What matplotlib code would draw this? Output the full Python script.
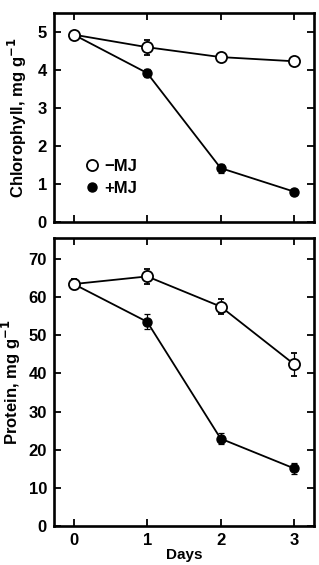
import numpy as np
import matplotlib.pyplot as plt
from matplotlib.lines import Line2D

days = [0, 1, 2, 3]

chl_minus = [4.93, 4.60, 4.34, 4.23]
chl_minus_err = [0.10, 0.20, 0.10, 0.12]
chl_plus = [4.93, 3.92, 1.42, 0.80]
chl_plus_err = [0.10, 0.10, 0.12, 0.08]

prot_minus = [63.4, 65.4, 57.5, 42.4]
prot_minus_err = [1.2, 2.0, 2.0, 3.0]
prot_plus = [63.4, 53.5, 22.9, 15.1]
prot_plus_err = [1.2, 2.0, 1.5, 1.5]

plt.rcParams['font.family'] = 'Liberation Sans'
plt.rcParams['font.weight'] = 'bold'
plt.rcParams['font.size'] = 12

fig = plt.figure(figsize=(3.19, 5.65), dpi=100)
ax1 = fig.add_axes([0.169, 0.607, 0.815, 0.370])
ax2 = fig.add_axes([0.169, 0.069, 0.815, 0.510])


def draw(ax, minus, minus_err, plus, plus_err):
    ax.errorbar(days, plus, yerr=plus_err, color='black', lw=1.3,
                marker='o', ms=6.5, mfc='black', mec='black',
                capsize=2.5, elinewidth=0.9, capthick=0.9, zorder=2)
    ax.errorbar(days, minus, yerr=minus_err, color='black', lw=1.3,
                marker='o', ms=8, mfc='white', mec='black', mew=1.3,
                capsize=2.5, elinewidth=0.9, capthick=0.9, zorder=3)
    ax.set_xlim(-0.27, 3.27)
    ax.set_xticks(days)
    ax.tick_params(direction='in', top=True, right=True, length=5,
                   width=1.3, labelsize=12, pad=5)
    for s in ax.spines.values():
        s.set_linewidth(1.9)


draw(ax1, chl_minus, chl_minus_err, chl_plus, chl_plus_err)
ax1.set_ylim(0, 5.5)
ax1.set_yticks([0, 1, 2, 3, 4, 5])
ax1.set_xticklabels([])
ax1.set_ylabel('Chlorophyll, mg g$^{\\mathbf{-1}}$', fontweight='bold',
               fontsize=12, labelpad=6)

handles = [Line2D([], [], ls='none', marker='o', ms=8, mfc='white', mec='black', mew=1.3),
           Line2D([], [], ls='none', marker='o', ms=6.5, mfc='black', mec='black')]
ax1.legend(handles, ['\u2212MJ', '+MJ'], frameon=False, loc='upper left',
           bbox_to_anchor=(0.1, 0.335), handlelength=0.7, handletextpad=0.35,
           labelspacing=0.45, borderaxespad=0, prop={'weight': 'bold', 'size': 12})

draw(ax2, prot_minus, prot_minus_err, prot_plus, prot_plus_err)
ax2.set_ylim(0, 75.5)
ax2.set_yticks([0, 10, 20, 30, 40, 50, 60, 70])
ax2.set_ylabel('Protein, mg g$^{\\mathbf{-1}}$', fontweight='bold',
               fontsize=12, labelpad=4)
ax2.set_xlabel('Days', fontweight='bold', fontsize=11, labelpad=0)

fig.savefig('out.png', dpi=100)
